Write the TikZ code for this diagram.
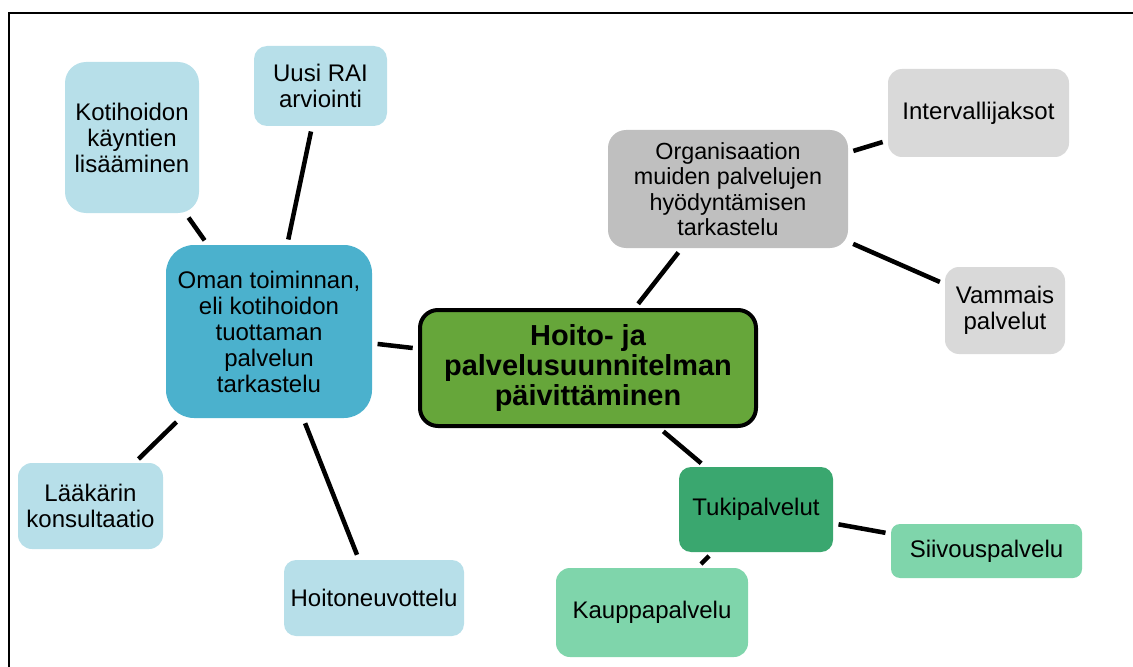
\documentclass[tikz,border=0pt]{standalone}
\usepackage{fontspec}
\setmainfont{Liberation Sans}
\usepackage{xcolor}
\definecolor{paleblue}{HTML}{B7DFE9}
\definecolor{midblue}{HTML}{4BB1CD}
\definecolor{maingreen}{HTML}{66A63A}
\definecolor{midgray}{HTML}{BFBFBF}
\definecolor{palegray}{HTML}{D9D9D9}
\definecolor{seagreen}{HTML}{3AA76F}
\definecolor{palegreen}{HTML}{7FD5AB}

\begin{document}
\begin{tikzpicture}[x=0.75pt, y=-0.75pt,
		box/.style={align=center, inner sep=0pt, font=\fontsize{18}{19.5}\selectfont},
		link/.style={line width=3.4pt, shorten <=4pt, shorten >=4pt}]
			\useasboundingbox (0,0) rectangle (1133,667);
			\draw[line width=1.5pt] (9,667) -- (9,13) -- (1133,13);

			\node[box, fill=maingreen, draw, line width=3pt, rounded corners=13.5pt, minimum width=252pt, minimum height=87pt, font=\fontsize{21.7}{22.5}\selectfont\bfseries] (hoito) at (588,368) {Hoito- ja\\palvelusuunnitelman\\päivittäminen};
			\node[box, fill=midblue, rounded corners=21pt, minimum width=154.5pt, minimum height=129.75pt] (oman) at (269,331.5) {Oman toiminnan,\\eli kotihoidon\\tuottaman\\palvelun\\tarkastelu};
			\node[box, fill=paleblue, rounded corners=15.75pt, minimum width=100.5pt, minimum height=113.25pt] (kaynnit) at (132,137.5) {Kotihoidon\\käyntien\\lisääminen};
			\node[box, fill=paleblue, rounded corners=9.75pt, minimum width=99.75pt, minimum height=60pt] (rai) at (320.5,86) {Uusi RAI\\arviointi};
			\node[box, fill=paleblue, rounded corners=10.5pt, minimum width=108.75pt, minimum height=64.5pt] (laakari) at (90.5,506) {Lääkärin\\konsultaatio};
			\node[box, fill=paleblue, rounded corners=9pt, minimum width=135pt, minimum height=57pt] (neuvottelu) at (374,598) {Hoitoneuvottelu};
			\node[box, fill=midgray, rounded corners=13.5pt, minimum width=180pt, minimum height=88.5pt, font=\fontsize{17.5}{19}\selectfont] (org) at (728,189) {Organisaation\\muiden palvelujen\\hyödyntämisen\\tarkastelu};
			\node[box, fill=palegray, rounded corners=10.5pt, minimum width=135.75pt, minimum height=66pt] (intervalli) at (978.5,113) {Intervallijaksot};
			\node[box, fill=palegray, rounded corners=10.5pt, minimum width=90pt, minimum height=65.25pt] (vammais) at (1005,310.5) {Vammais\\palvelut};
			\node[box, fill=seagreen, rounded corners=9pt, minimum width=115.5pt, minimum height=63.75pt] (tuki) at (756,509.5) {Tukipalvelut};
			\node[box, fill=palegreen, rounded corners=6.75pt, minimum width=143.25pt, minimum height=40.5pt] (siivous) at (986.5,551) {Siivouspalvelu};
			\node[box, fill=palegreen, rounded corners=10.5pt, minimum width=144pt, minimum height=66.75pt] (kauppa) at (652,612.5) {Kauppapalvelu};

			\draw[link] (oman) -- (hoito);
			\draw[link] (oman) -- (kaynnit);
			\draw[link] (oman) -- (rai);
			\draw[link] (oman) -- (laakari);
			\draw[link] (oman) -- (neuvottelu);
			\draw[link] (hoito) -- (org);
			\draw[link] (org) -- (intervalli);
			\draw[link] (org) -- (vammais);
			\draw[link] (hoito) -- (tuki);
			\draw[link] (tuki) -- (siivous);
			\draw[link] (tuki) -- (kauppa);

		\end{tikzpicture}
\end{document}
